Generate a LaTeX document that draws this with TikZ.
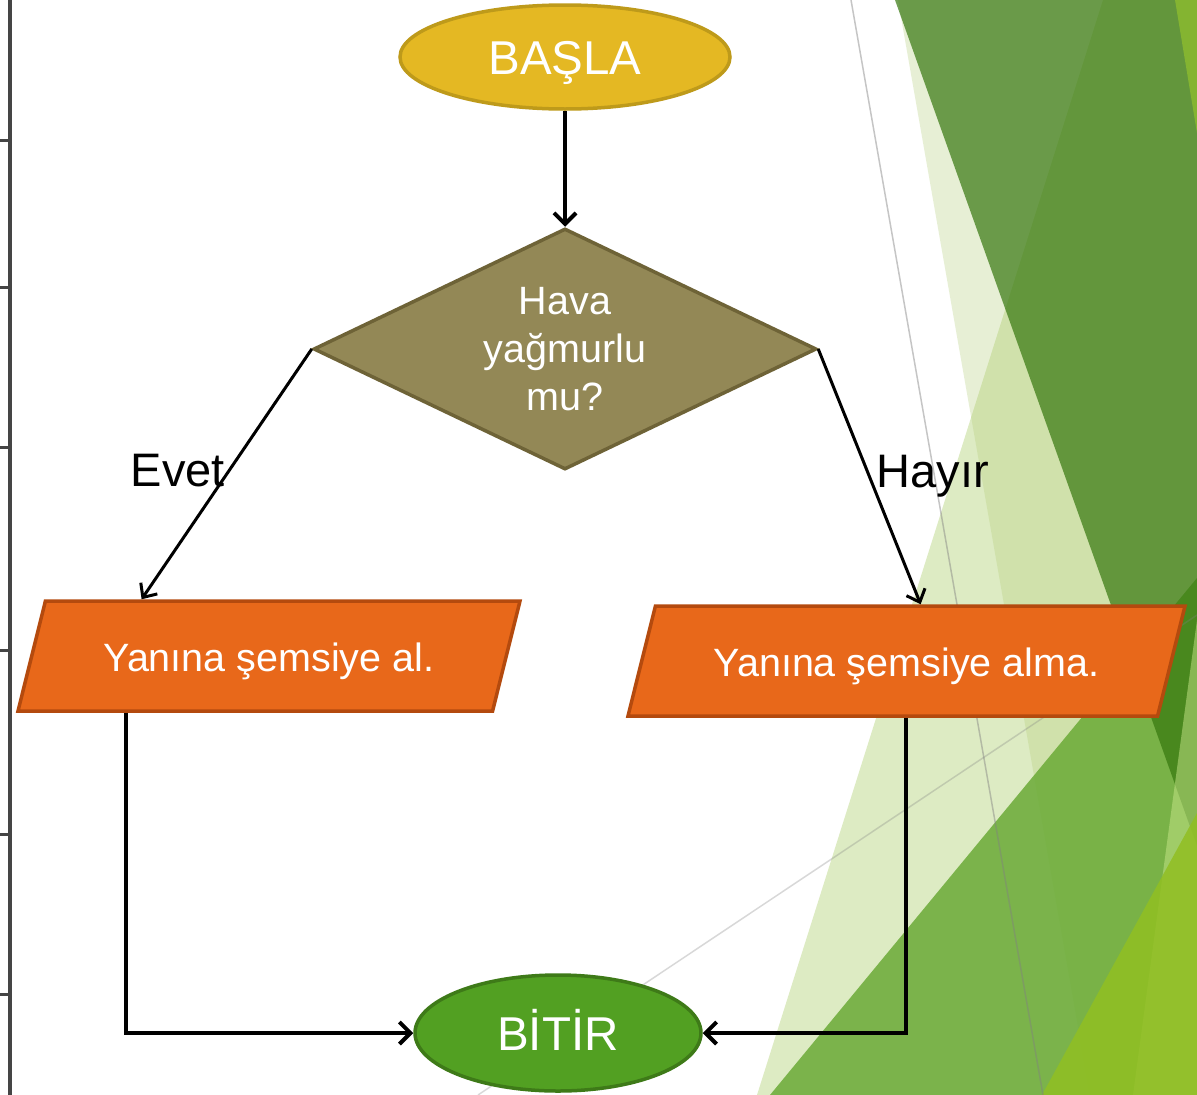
\documentclass[tikz,border=0pt]{standalone}
\usepackage{fontspec}
\setmainfont{Liberation Sans}
\usepackage{tikz}
\usetikzlibrary{
  positioning, arrows.meta, shapes.geometric, calc
}
\definecolor{startGold}{HTML}{E4B823}
\definecolor{startEdge}{HTML}{BE9A1A}
\definecolor{askOlive}{HTML}{938856}
\definecolor{askEdge}{HTML}{6E6337}
\definecolor{stepOrange}{HTML}{E8681A}
\definecolor{stepEdge}{HTML}{B44A0E}
\definecolor{endGreen}{HTML}{52A022}
\definecolor{endEdge}{HTML}{3E7A18}
\definecolor{rulerGray}{HTML}{454545}
\definecolor{facetPale}{HTML}{DDEBC3}
\definecolor{facetWedge}{HTML}{B2CD76}
\definecolor{facetMid}{HTML}{6AAA36}
\definecolor{facetDark}{HTML}{36770E}
\definecolor{facetLime}{HTML}{84B431}
\definecolor{facetYellow}{HTML}{91BF22}
\definecolor{facetLight}{HTML}{C8E68A}
\newcommand{\facet}[3]{%
  \fill[#1, fill opacity=#2] #3 -- cycle;}

\begin{document}
\begin{tikzpicture}[x=1pt, y=-1pt,
    terminal/.style={ellipse, inner sep=0pt, line width=3.5pt, text=white,
      font=\fontsize{47.5}{57}\selectfont, text height=34pt, text depth=0pt},
    decision/.style={diamond, aspect=2.09, inner sep=0pt, line width=3.5pt,
      fill=askOlive, draw=askEdge, text=white, align=center,
      font=\fontsize{39.5}{48}\selectfont, minimum width=503pt, minimum height=241pt},
    iobox/.style={trapezium, trapezium left angle=76, trapezium right angle=104,
      trapezium stretches body, inner xsep=0pt, inner ysep=37pt,
      text height=33pt, text depth=3pt, line width=3.5pt,
      fill=stepOrange, draw=stepEdge, text=white,
      font=\fontsize{39.5}{48}\selectfont},
    flow/.style={line width=4pt, -{Straight Barb[length=11pt, width=22pt]}},
    branch/.style={line width=3pt, -{Straight Barb[length=11pt, width=20pt]}},
    answer/.style={font=\fontsize{47}{56}\selectfont, text=black, inner sep=0pt}]
  \useasboundingbox (0,0) rectangle (1197,1095);
  \fill[white] (0,0) rectangle (1197,1095);
  % ---- background facets ----
  \facet{facetPale}{1}{(1103,0) -- (1197,0) -- (1197,1095) -- (757,1095)}
  \facet{facetWedge}{0.3}{(898,0) -- (1197,0) -- (1197,1095) -- (1090,1095)}
  \facet{facetMid}{0.85}{(1197,578) -- (1197,1095) -- (770,1095)}
  \facet{facetDark}{0.7}{(895,0) -- (1197,0) -- (1197,846)}
  \facet{facetLime}{1}{(1175,0) -- (1197,0) -- (1197,133)}
  \facet{facetLight}{0.5}{(1197,620) -- (1197,1095) -- (1133,1095)}
  \facet{facetYellow}{0.85}{(1197,813) -- (1197,1095) -- (1042,1095)}
  \draw[gray, draw opacity=0.45, line width=1.5pt] (851,0) -- (1043,1095);
  \draw[gray, draw opacity=0.3, line width=1.5pt] (478,1095) -- (1197,615);
  % ---- ruler on the left ----
  \draw[rulerGray, line width=3.5pt] (10,0) -- (10,1095);
  \foreach \y in {140,287,447,650,834,994}
    \draw[rulerGray, line width=3pt] (0,\y) -- (10,\y);
  % ---- flow chart ----
  \node[terminal, fill=startGold, draw=startEdge,
    minimum width=330pt, minimum height=104pt] (basla) at (565,57) {BAŞLA};
  \node[decision] (karar) at (565,349) {Hava\\yağmurlu\\mu?};
  \node[iobox, minimum width=502pt] (al) at (269,656) {Yanına şemsiye al.};
  \node[iobox, minimum width=557pt] (alma) at (906.5,661) {Yanına şemsiye alma.};
  \node[terminal, fill=endGreen, draw=endEdge,
    minimum width=286pt, minimum height=116pt] (bitir) at (558,1033) {BİTİR};
  \node[answer] (evet) at (178,471) {Evet};
  \node[answer] (hayir) at (933,476) {Hayır};
  \draw[flow] (basla.south) -- (karar.north);
  \draw[branch] (karar.west) -- ($(al.top left corner)!0.204!(al.top right corner)$);
  \draw[branch] (karar.east) -- (alma.top side);
  \draw[flow] ($(al.bottom left corner)!0.23!(al.bottom right corner)$) |- (bitir.west);
  \draw[flow] ($(alma.bottom left corner)!0.526!(alma.bottom right corner)$) |- (bitir.east);
\end{tikzpicture}
\end{document}
